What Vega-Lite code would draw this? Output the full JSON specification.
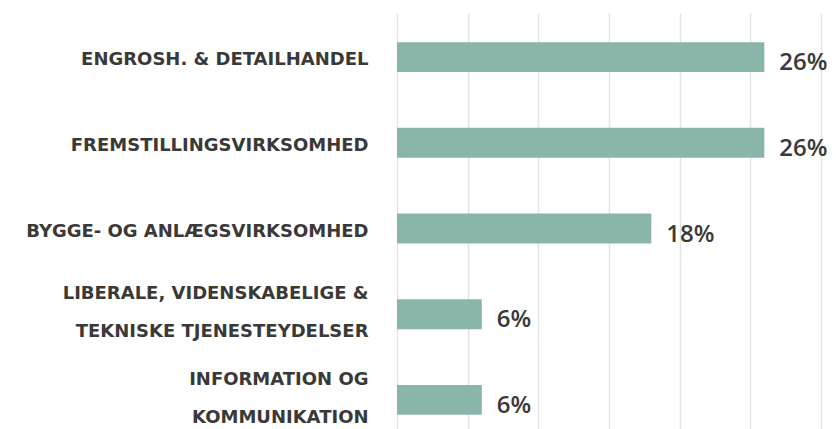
{
  "$schema": "https://vega.github.io/schema/vega-lite/v6.json",
  "width": 438,
  "height": 431,
  "autosize": {"type": "none"},
  "padding": {"left": 397, "top": 13, "right": 0, "bottom": 0},
  "background": "white",
  "data": {
    "values": [
      {"branche": "ENGROSH. & DETAILHANDEL", "andel": 26, "label": "26%"},
      {"branche": "FREMSTILLINGSVIRKSOMHED", "andel": 26, "label": "26%"},
      {"branche": "BYGGE- OG ANLÆGSVIRKSOMHED", "andel": 18, "label": "18%"},
      {"branche": "LIBERALE, VIDENSKABELIGE &|TEKNISKE TJENESTEYDELSER", "andel": 6, "label": "6%"},
      {"branche": "INFORMATION OG|KOMMUNIKATION", "andel": 6, "label": "6%"}
    ]
  },
  "encoding": {
    "y": {
      "field": "branche",
      "type": "nominal",
      "sort": null,
      "scale": {"paddingInner": 0.65, "paddingOuter": 0.34},
      "axis": {
        "title": null,
        "domain": false,
        "ticks": false,
        "labelPadding": 29,
        "labelFont": "DejaVu Sans",
        "labelFontWeight": "bold",
        "labelFontSize": 18,
        "labelColor": "#3a3937",
        "labelLineHeight": 38,
        "labelExpr": "split(datum.label, '|')",
        "labelLimit": 400,
        "labelOffset": {"condition": {"test": "indexof(datum.value, '|') >= 0", "value": -20}, "value": 3}
      }
    },
    "x": {
      "field": "andel",
      "type": "quantitative",
      "scale": {"domain": [0, 31], "nice": false},
      "axis": {
        "title": null,
        "domain": false,
        "ticks": false,
        "labels": false,
        "values": [0, 5, 10, 15, 20, 25, 30],
        "gridColor": "#e4e4e4",
        "gridWidth": 1.5
      }
    }
  },
  "layer": [
    {"mark": {"type": "bar", "color": "#8ab5aa"}},
    {
      "mark": {
        "type": "text",
        "align": "left",
        "baseline": "middle",
        "dx": 15,
        "dy": 6,
        "font": "Open Sans",
        "fontWeight": 600,
        "fontSize": 24,
        "color": "#3a3937"
      },
      "encoding": {"text": {"field": "label"}}
    }
  ],
  "config": {"view": {"stroke": null}}
}
